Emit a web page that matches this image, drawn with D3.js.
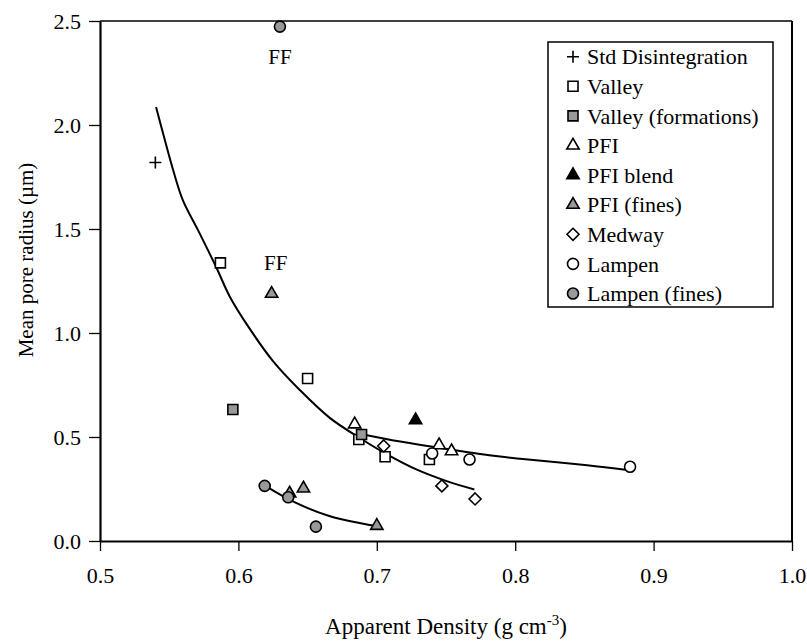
<!DOCTYPE html>
<html>
<head>
<meta charset="utf-8">
<script src="https://cdn.jsdelivr.net/npm/d3@7"></script>
<style>
  body { margin: 0; background: #fff; }
  svg text { font-family: "Liberation Serif", "Times New Roman", Times, serif !important; fill: #000; }
</style>
</head>
<body>
<div id="chart"></div>
<script>
// values: [apparent density, mean pore radius]
const stdDisintegration = [[0.540, 1.82]];
const valley = [[0.587, 1.337], [0.650, 0.781], [0.687, 0.488], [0.706, 0.405], [0.738, 0.392]];
const valleyFormations = [[0.596, 0.632], [0.689, 0.512]];
const pfi = [[0.684, 0.561], [0.745, 0.461], [0.754, 0.432]];
const pfiBlend = [[0.728, 0.581]];
const pfiFines = [[0.624, 1.189], [0.637, 0.229], [0.647, 0.253], [0.700, 0.073]];
const medway = [[0.705, 0.457], [0.747, 0.265], [0.771, 0.202]];
const lampen = [[0.740, 0.421], [0.767, 0.392], [0.883, 0.357]];
const lampenFines = [[0.630, 2.473], [0.619, 0.265], [0.636, 0.210], [0.656, 0.069]];

// fitted curves
const curveMain = [[0.5405, 2.087], [0.547, 1.924], [0.553, 1.780], [0.560, 1.636], [0.571, 1.492],
  [0.584, 1.316], [0.594, 1.172], [0.608, 1.022], [0.625, 0.865], [0.6445, 0.725], [0.666, 0.592],
  [0.688, 0.494], [0.707, 0.418], [0.729, 0.343], [0.7505, 0.288], [0.7705, 0.248]];
const curveFlat = [[0.6866, 0.517], [0.717, 0.478], [0.753, 0.440], [0.789, 0.406], [0.8035, 0.396],
  [0.852, 0.364], [0.881, 0.341]];
const curveFines = [[0.6204, 0.261], [0.6397, 0.189], [0.6662, 0.119], [0.6994, 0.072]];

const annotations = [[0.630, 2.33, 'FF'], [0.627, 1.34, 'FF']];

const xTicks = [0.5, 0.6, 0.7, 0.8, 0.9, 1.0];
const yTicks = [0.0, 0.5, 1.0, 1.5, 2.0, 2.5];

const gray = '#999999';
const series = [
  { name: 'Std Disintegration', data: stdDisintegration, shape: 'plus', fill: 'none' },
  { name: 'Valley', data: valley, shape: 'square', fill: '#fff' },
  { name: 'Valley (formations)', data: valleyFormations, shape: 'square', fill: gray },
  { name: 'PFI', data: pfi, shape: 'triangle', fill: '#fff' },
  { name: 'PFI blend', data: pfiBlend, shape: 'triangle', fill: '#000' },
  { name: 'PFI (fines)', data: pfiFines, shape: 'triangle', fill: gray },
  { name: 'Medway', data: medway, shape: 'diamond', fill: '#fff' },
  { name: 'Lampen', data: lampen, shape: 'circle', fill: '#fff' },
  { name: 'Lampen (fines)', data: lampenFines, shape: 'circle', fill: gray },
];

const shapes = {
  plus: 'M-6,0H6M0,-6V6',
  square: d3.symbol(d3.symbolSquare, 100)(),
  triangle: d3.symbol(d3.symbolTriangle, 66)(),
  diamond: 'M0,-6L6,0L0,6L-6,0Z',
  circle: d3.symbol(d3.symbolCircle, 95)(),
};

let dimensions = {
  width: 807,
  height: 641,
  margin: { top: 21, bottom: 100, left: 100, right: 15 },
};
dimensions.ctrWidth = dimensions.width - dimensions.margin.left - dimensions.margin.right;
dimensions.ctrHeight = dimensions.height - dimensions.margin.top - dimensions.margin.bottom;

const svg = d3.select('#chart')
  .append('svg')
  .attr('width', dimensions.width)
  .attr('height', dimensions.height);

const ctr = svg.append('g')
  .attr('transform', `translate(${dimensions.margin.left}, ${dimensions.margin.top})`);

const xScale = d3.scaleLinear().domain([0.5, 1.0]).range([0, dimensions.ctrWidth]);
const yScale = d3.scaleLinear().domain([0, 2.5]).range([dimensions.ctrHeight, 0]);

// frame: top and right
ctr.append('line')
  .attr('x1', 0).attr('x2', dimensions.ctrWidth)
  .attr('y1', 0).attr('y2', 0)
  .attr('stroke', '#000').attr('stroke-width', 1.3);
ctr.append('line')
  .attr('x1', dimensions.ctrWidth).attr('x2', dimensions.ctrWidth)
  .attr('y1', 0).attr('y2', dimensions.ctrHeight)
  .attr('stroke', '#000').attr('stroke-width', 2);

// axes
const xAxis = d3.axisBottom(xScale).tickValues(xTicks).tickFormat(d3.format('.1f')).tickSize(10).tickSizeOuter(0);
const yAxis = d3.axisLeft(yScale).tickValues(yTicks).tickFormat(d3.format('.1f')).tickSize(11).tickSizeOuter(0);

const xAxisGroup = ctr.append('g')
  .attr('transform', `translate(0, ${dimensions.ctrHeight})`)
  .call(xAxis);
const yAxisGroup = ctr.append('g').call(yAxis);

[xAxisGroup, yAxisGroup].forEach((g) => {
  g.attr('font-family', null).attr('font-size', null);
  g.select('.domain').attr('stroke-width', 2.2);
  g.selectAll('.tick line').attr('stroke-width', 1.3);
  g.selectAll('.tick text').style('font-size', '22px');
});
xAxisGroup.selectAll('.tick text').attr('y', 26);
yAxisGroup.selectAll('.tick text').attr('x', -19);

// axis titles
const xTitle = svg.append('text')
  .attr('x', dimensions.margin.left + dimensions.ctrWidth / 2)
  .attr('y', 634)
  .attr('text-anchor', 'middle')
  .style('font-size', '23px');
xTitle.append('tspan').text('Apparent Density (g cm');
xTitle.append('tspan').attr('dy', -9).style('font-size', '15px').text('-3');
xTitle.append('tspan').attr('dy', 9).text(')');

svg.append('text')
  .attr('transform', 'translate(26, 260) rotate(-90)')
  .attr('text-anchor', 'middle')
  .attr('dy', '0.35em')
  .style('font-size', '21px')
  .text('Mean pore radius (\u00b5m)');

// curves
const line = d3.line()
  .x((d) => xScale(d[0]))
  .y((d) => yScale(d[1]))
  .curve(d3.curveCatmullRom.alpha(0.5));

ctr.selectAll('path.fit')
  .data([curveMain, curveFlat, curveFines])
  .join('path')
  .attr('class', 'fit')
  .attr('d', line)
  .attr('fill', 'none')
  .attr('stroke', '#000')
  .attr('stroke-width', 2);

// points
series.forEach((s) => {
  ctr.append('g')
    .selectAll('path')
    .data(s.data)
    .join('path')
    .attr('transform', (d) => `translate(${xScale(d[0])}, ${yScale(d[1])})`)
    .attr('d', shapes[s.shape])
    .attr('fill', s.fill)
    .attr('stroke', '#000')
    .attr('stroke-width', 1.6);
});

// FF labels
ctr.selectAll('text.ann')
  .data(annotations)
  .join('text')
  .attr('class', 'ann')
  .attr('x', (d) => xScale(d[0]))
  .attr('y', (d) => yScale(d[1]))
  .attr('dy', '0.35em')
  .attr('text-anchor', 'middle')
  .style('font-size', '21px')
  .text((d) => d[2]);

// legend
const legend = svg.append('g').attr('transform', 'translate(548, 42)');
legend.append('rect')
  .attr('width', 225)
  .attr('height', 265)
  .attr('fill', '#fff')
  .attr('stroke', '#000')
  .attr('stroke-width', 1.5);

const rows = legend.selectAll('g.row')
  .data(series)
  .join('g')
  .attr('class', 'row')
  .attr('transform', (d, i) => `translate(0, ${14.7 + i * 29.6})`);

rows.append('path')
  .attr('transform', 'translate(25, 0)')
  .attr('d', (d) => shapes[d.shape])
  .attr('fill', (d) => d.fill)
  .attr('stroke', '#000')
  .attr('stroke-width', 1.6);

rows.append('text')
  .attr('x', 39)
  .attr('dy', '0.35em')
  .style('font-size', '22px')
  .text((d) => d.name);
</script>
</body>
</html>
